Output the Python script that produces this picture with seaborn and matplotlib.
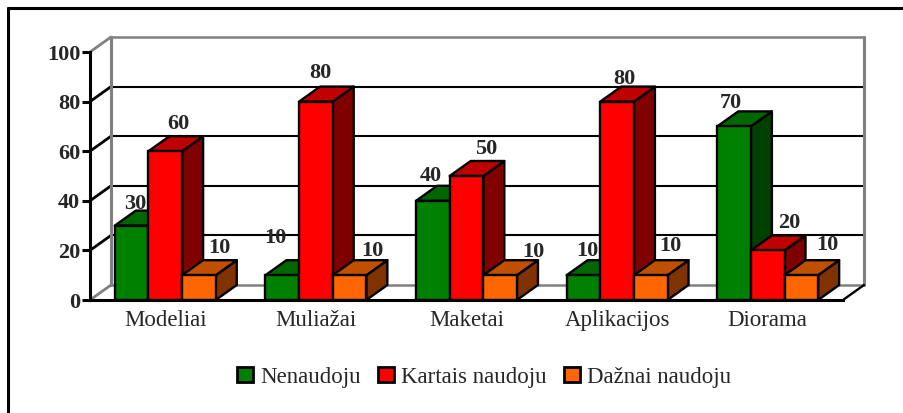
import matplotlib
matplotlib.use("Agg")
import matplotlib.pyplot as plt
from matplotlib.lines import Line2D
from matplotlib.patches import Polygon
import numpy as np
import pandas as pd
import seaborn as sns

categories = ["Modeliai", "Muliažai", "Maketai", "Aplikacijos", "Diorama"]
never = [30, 10, 40, 10, 70]
sometimes = [60, 80, 50, 80, 20]
often = [10, 10, 10, 10, 10]
series_names = ["Nenaudoju", "Kartais naudoju", "Dažnai naudoju"]
y_ticks = [0, 20, 40, 60, 80, 100]

front_colors = ["#008000", "#FF0000", "#FF6600"]
top_colors = ["#006600", "#C00000", "#C05000"]
side_colors = ["#004000", "#800000", "#803300"]

# hand placed labels in the original, offset from the bar top in pixels
label_nudge = [
    [(4, 22), (-7, 37), (-2, 25), (4, 24), (-3, 23)],
    [(13, 27), (4, 29), (20, 27), (7, 23), (22, 27)],
    [(20, 27), (23, 24), (33, 23), (20, 29), (26, 30)],
]

W, H = 904, 413
AX_L, AX_R, AX_T, AX_B = 90, 843, 52, 300
DEPTH_X, DEPTH_Y = 21, 15
EDGE = 1.7

df = pd.DataFrame({
    "category": categories * 3,
    "series": np.repeat(series_names, len(categories)),
    "value": never + sometimes + often,
})

sns.set_style("white")
plt.rcParams["font.family"] = ["Liberation Serif", "DejaVu Serif"]

fig = plt.figure(figsize=(W / 100, H / 100), dpi=100)
ax = fig.add_axes([AX_L / W, 1 - AX_B / H, (AX_R - AX_L) / W, (AX_B - AX_T) / H])
ax.patch.set_alpha(0)

sns.barplot(data=df, x="category", y="value", hue="series", palette=front_colors,
            width=0.67, gap=0, edgecolor="black", linewidth=EDGE, saturation=1, ax=ax)
ax.set_xlim(-0.5, 4.5)
ax.set_ylim(0, 100)

# depth of the fake 3d in data units
dx = DEPTH_X / (AX_R - AX_L) * 5
dy = DEPTH_Y / (AX_B - AX_T) * 100

# back wall and floor
for t in y_ticks:
    col = "#808080" if t in (0, 100) else "black"
    ax.plot([-0.5 + dx, 4.5 + dx], [t + dy, t + dy], color=col, lw=1.8 if t in (0, 100) else 1.5,
            clip_on=False, zorder=1)
    ax.plot([-0.5, -0.5 + dx], [t, t + dy], color=col, lw=2, clip_on=False, zorder=1)
for x in (-0.5 + dx, 4.5 + dx):
    ax.plot([x, x], [dy, 100 + dy], color="#808080", lw=2.2, clip_on=False, zorder=1)
ax.plot([4.5, 4.5 + dx], [0, dy], color="black", lw=EDGE, clip_on=False, zorder=1)

# side and top faces, later bars sit in front of earlier ones
for h, cont in enumerate(ax.containers):
    for i, bar in enumerate(cont):
        x0 = bar.get_x()
        x1 = x0 + bar.get_width()
        v = bar.get_height()
        z = 3 + i * 3 + h * 0.5
        bar.set_zorder(z + 0.2)
        ax.add_patch(Polygon([(x1, 0), (x1 + dx, dy), (x1 + dx, v + dy), (x1, v)],
                             facecolor=side_colors[h], edgecolor="black", lw=EDGE,
                             zorder=z, clip_on=False, joinstyle="round"))
        ax.add_patch(Polygon([(x0, v), (x0 + dx, v + dy), (x1 + dx, v + dy), (x1, v)],
                             facecolor=top_colors[h], edgecolor="black", lw=EDGE,
                             zorder=z + 0.1, clip_on=False, joinstyle="round"))
        ax.annotate(str(int(v)), (x0 + bar.get_width() / 2, v), xytext=label_nudge[h][i],
                    textcoords="offset pixels", ha="center", va="center", fontsize=16,
                    fontweight="bold", zorder=30, annotation_clip=False)

ax.set_xlabel("")
ax.set_ylabel("")
ax.set_yticks(y_ticks)
ax.set_xticks(range(len(categories)), categories)
ax.set_xticks(np.arange(-0.5, 5), minor=True)
ax.tick_params(axis="x", which="major", length=0, labelsize=16.5, pad=7)
ax.tick_params(axis="x", which="minor", length=3.5, width=1.8, color="black")
ax.tick_params(axis="y", length=6, width=2.2, color="black", labelsize=16, pad=1, left=True)
for lab in ax.get_yticklabels():
    lab.set_fontweight("bold")
sns.despine(ax=ax, top=True, right=True)
for side in ("left", "bottom"):
    ax.spines[side].set_linewidth(2.2)
    ax.spines[side].set_color("black")
    ax.spines[side].set_zorder(40)

sns.move_legend(ax, "center", bbox_to_anchor=(484 / W, 1 - 377 / H), bbox_transform=fig.transFigure,
                ncol=3, frameon=False, title=None, fontsize=16.5, handlelength=0.7, handleheight=0.6,
                handletextpad=0.3, columnspacing=0.76)
for p in ax.get_legend().get_patches():
    p.set_linewidth(2)

# chart frame, cut off at right and bottom in the source image
fig.add_artist(Line2D([8 / W, 8 / W], [0, 1 - 8 / H], color="black", lw=2.2))
fig.add_artist(Line2D([8 / W, 1], [1 - 8 / H, 1 - 8 / H], color="black", lw=2.2))

fig.savefig("out.png", dpi=100)
